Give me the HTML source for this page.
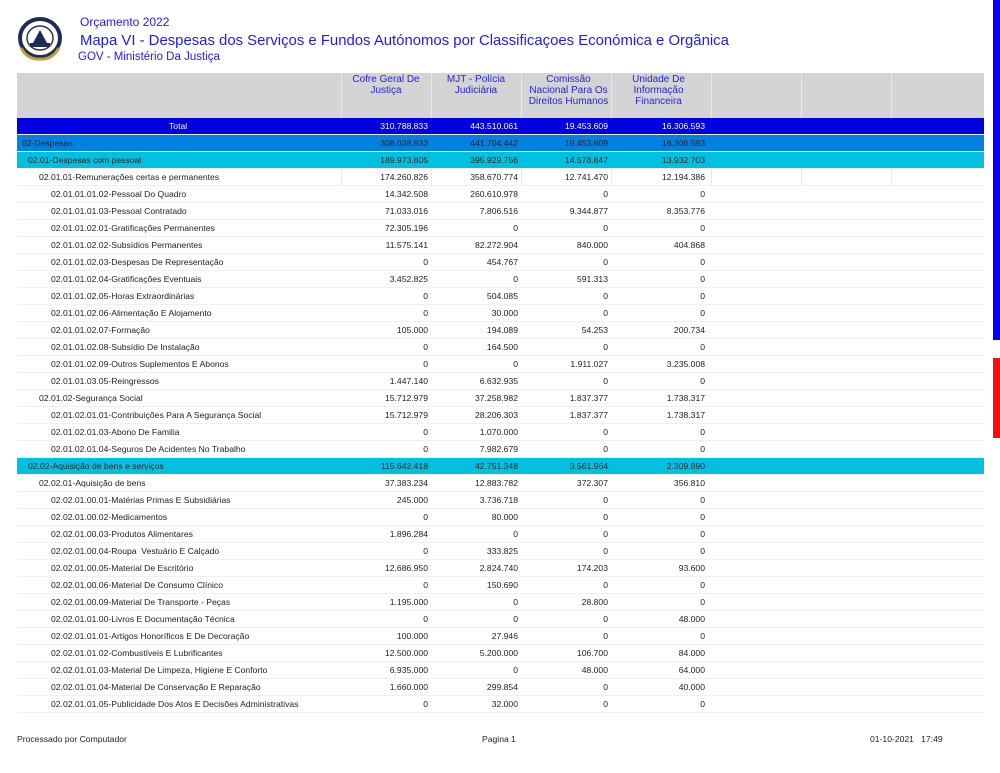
<!DOCTYPE html>
<html><head><meta charset="utf-8"><style>
body{margin:0;width:1000px;height:773px;background:#fff;position:relative;overflow:hidden;font-family:"Liberation Sans",sans-serif;}
.a{position:absolute;white-space:nowrap}
.t{color:#1a1aff}
.r{position:absolute;left:17px;width:967px;height:17px;font-size:8.6px;color:#222;border-bottom:1px solid #f0f0f0;box-sizing:border-box}
.r span{position:absolute;top:3px}
.v{text-align:right;width:90px}
.h{position:absolute;top:73px;height:45px;background:#d4d4d4}
.hc{position:absolute;top:74px;font-size:10px;color:#2222ee;text-align:center;line-height:11px}
</style></head><body>
<svg class="a" style="left:16px;top:14px" width="48" height="50" viewBox="0 0 48 50">
<ellipse cx="24" cy="24" rx="20" ry="19" fill="#fff" stroke="#1f2a55" stroke-width="4"/>
<ellipse cx="24" cy="24" rx="13" ry="12" fill="#fff" stroke="#334" stroke-width="1.5"/>
<polygon points="24,16 31,29 17,29" fill="#1f2a55"/>
<rect x="14" y="29" width="20" height="4" fill="#1f2a55"/>
<path d="M5,34 Q12,46 24,45 Q36,46 43,34" fill="none" stroke="#b9a040" stroke-width="3"/>
</svg>
<div class="a t" style="left:80px;top:15px;font-size:12px">Orçamento 2022</div>
<div class="a t" style="left:80px;top:33px;font-size:14.9px">Mapa VI - Despesas dos Serviços e Fundos Autónomos por Classificaçoes Económica e Orgãnica</div>
<div class="a t" style="left:78px;top:51px;font-size:11.5px">GOV - Ministério Da Justiça</div>
<div style="position:absolute;left:993px;top:0;width:7px;height:340px;background:#0000f0"></div>
<div style="position:absolute;left:993px;top:358px;width:7px;height:80px;background:#f01010"></div>
<div class="h" style="left:17px;width:967px"></div>
<div style="position:absolute;left:341px;top:73px;width:1px;height:112px;background:#e8e8e8"></div>
<div style="position:absolute;left:431px;top:73px;width:1px;height:112px;background:#e8e8e8"></div>
<div style="position:absolute;left:521px;top:73px;width:1px;height:112px;background:#e8e8e8"></div>
<div style="position:absolute;left:611px;top:73px;width:1px;height:112px;background:#e8e8e8"></div>
<div style="position:absolute;left:711px;top:73px;width:1px;height:112px;background:#e8e8e8"></div>
<div style="position:absolute;left:801px;top:73px;width:1px;height:112px;background:#e8e8e8"></div>
<div style="position:absolute;left:891px;top:73px;width:1px;height:112px;background:#e8e8e8"></div>
<div class="hc" style="left:341px;width:90px">Cofre Geral De<br>Justiça</div>
<div class="hc" style="left:431px;width:90px">MJT - Polícia<br>Judiciária</div>
<div class="hc" style="left:521px;width:95px">Comissão<br>Nacional Para Os<br>Direitos Humanos</div>
<div class="hc" style="left:611px;width:95px">Unidade De<br>Informação<br>Financeira</div>
<div class="a" style="left:17px;top:734px;font-size:8.6px;color:#222">Processado por Computador</div>
<div class="a" style="left:482px;top:734px;font-size:8.6px;color:#222">Pagina 1</div>
<div class="a" style="left:870px;top:734px;font-size:8.6px;color:#222">01-10-2021&nbsp;&nbsp;&nbsp;17:49</div>
<div class="r" style="top:118px;background:#0000e0;color:#fff"><span style="left:152px">Total</span><span class="v" style="left:321px">310.788.833</span><span class="v" style="left:411px">443.510.061</span><span class="v" style="left:501px">19.453.609</span><span class="v" style="left:598px">16.306.593</span></div>
<div class="r" style="top:135px;background:#0080e0"><span style="left:5px">02-Despesas</span><span class="v" style="left:321px">308.038.833</span><span class="v" style="left:411px">441.704.442</span><span class="v" style="left:501px">19.453.609</span><span class="v" style="left:598px">16.306.593</span></div>
<div class="r" style="top:152px;background:#00c0e0"><span style="left:11px">02.01-Despesas com pessoal</span><span class="v" style="left:321px">189.973.805</span><span class="v" style="left:411px">395.929.756</span><span class="v" style="left:501px">14.578.847</span><span class="v" style="left:598px">13.932.703</span></div>
<div class="r" style="top:169px"><span style="left:22px">02.01.01-Remunerações certas e permanentes</span><span class="v" style="left:321px">174.260.826</span><span class="v" style="left:411px">358.670.774</span><span class="v" style="left:501px">12.741.470</span><span class="v" style="left:598px">12.194.386</span></div>
<div class="r" style="top:186px"><span style="left:34px">02.01.01.01.02-Pessoal Do Quadro</span><span class="v" style="left:321px">14.342.508</span><span class="v" style="left:411px">260.610.978</span><span class="v" style="left:501px">0</span><span class="v" style="left:598px">0</span></div>
<div class="r" style="top:203px"><span style="left:34px">02.01.01.01.03-Pessoal Contratado</span><span class="v" style="left:321px">71.033.016</span><span class="v" style="left:411px">7.806.516</span><span class="v" style="left:501px">9.344.877</span><span class="v" style="left:598px">8.353.776</span></div>
<div class="r" style="top:220px"><span style="left:34px">02.01.01.02.01-Gratificações Permanentes</span><span class="v" style="left:321px">72.305.196</span><span class="v" style="left:411px">0</span><span class="v" style="left:501px">0</span><span class="v" style="left:598px">0</span></div>
<div class="r" style="top:237px"><span style="left:34px">02.01.01.02.02-Subsídios Permanentes</span><span class="v" style="left:321px">11.575.141</span><span class="v" style="left:411px">82.272.904</span><span class="v" style="left:501px">840.000</span><span class="v" style="left:598px">404.868</span></div>
<div class="r" style="top:254px"><span style="left:34px">02.01.01.02.03-Despesas De Representação</span><span class="v" style="left:321px">0</span><span class="v" style="left:411px">454.767</span><span class="v" style="left:501px">0</span><span class="v" style="left:598px">0</span></div>
<div class="r" style="top:271px"><span style="left:34px">02.01.01.02.04-Gratificações Eventuais</span><span class="v" style="left:321px">3.452.825</span><span class="v" style="left:411px">0</span><span class="v" style="left:501px">591.313</span><span class="v" style="left:598px">0</span></div>
<div class="r" style="top:288px"><span style="left:34px">02.01.01.02.05-Horas Extraordinárias</span><span class="v" style="left:321px">0</span><span class="v" style="left:411px">504.085</span><span class="v" style="left:501px">0</span><span class="v" style="left:598px">0</span></div>
<div class="r" style="top:305px"><span style="left:34px">02.01.01.02.06-Alimentação E Alojamento</span><span class="v" style="left:321px">0</span><span class="v" style="left:411px">30.000</span><span class="v" style="left:501px">0</span><span class="v" style="left:598px">0</span></div>
<div class="r" style="top:322px"><span style="left:34px">02.01.01.02.07-Formação</span><span class="v" style="left:321px">105.000</span><span class="v" style="left:411px">194.089</span><span class="v" style="left:501px">54.253</span><span class="v" style="left:598px">200.734</span></div>
<div class="r" style="top:339px"><span style="left:34px">02.01.01.02.08-Subsídio De Instalação</span><span class="v" style="left:321px">0</span><span class="v" style="left:411px">164.500</span><span class="v" style="left:501px">0</span><span class="v" style="left:598px">0</span></div>
<div class="r" style="top:356px"><span style="left:34px">02.01.01.02.09-Outros Suplementos E Abonos</span><span class="v" style="left:321px">0</span><span class="v" style="left:411px">0</span><span class="v" style="left:501px">1.911.027</span><span class="v" style="left:598px">3.235.008</span></div>
<div class="r" style="top:373px"><span style="left:34px">02.01.01.03.05-Reingressos</span><span class="v" style="left:321px">1.447.140</span><span class="v" style="left:411px">6.632.935</span><span class="v" style="left:501px">0</span><span class="v" style="left:598px">0</span></div>
<div class="r" style="top:390px"><span style="left:22px">02.01.02-Segurança Social</span><span class="v" style="left:321px">15.712.979</span><span class="v" style="left:411px">37.258.982</span><span class="v" style="left:501px">1.837.377</span><span class="v" style="left:598px">1.738.317</span></div>
<div class="r" style="top:407px"><span style="left:34px">02.01.02.01.01-Contribuições Para A Segurança Social</span><span class="v" style="left:321px">15.712.979</span><span class="v" style="left:411px">28.206.303</span><span class="v" style="left:501px">1.837.377</span><span class="v" style="left:598px">1.738.317</span></div>
<div class="r" style="top:424px"><span style="left:34px">02.01.02.01.03-Abono De Familia</span><span class="v" style="left:321px">0</span><span class="v" style="left:411px">1.070.000</span><span class="v" style="left:501px">0</span><span class="v" style="left:598px">0</span></div>
<div class="r" style="top:441px"><span style="left:34px">02.01.02.01.04-Seguros De Acidentes No Trabalho</span><span class="v" style="left:321px">0</span><span class="v" style="left:411px">7.982.679</span><span class="v" style="left:501px">0</span><span class="v" style="left:598px">0</span></div>
<div class="r" style="top:458px;background:#00c0e0"><span style="left:11px">02.02-Aquisição de bens e serviços</span><span class="v" style="left:321px">115.642.418</span><span class="v" style="left:411px">42.751.348</span><span class="v" style="left:501px">3.561.964</span><span class="v" style="left:598px">2.309.890</span></div>
<div class="r" style="top:475px"><span style="left:22px">02.02.01-Aquisição de bens</span><span class="v" style="left:321px">37.383.234</span><span class="v" style="left:411px">12.883.782</span><span class="v" style="left:501px">372.307</span><span class="v" style="left:598px">356.810</span></div>
<div class="r" style="top:492px"><span style="left:34px">02.02.01.00.01-Matérias Primas E Subsidiárias</span><span class="v" style="left:321px">245.000</span><span class="v" style="left:411px">3.736.718</span><span class="v" style="left:501px">0</span><span class="v" style="left:598px">0</span></div>
<div class="r" style="top:509px"><span style="left:34px">02.02.01.00.02-Medicamentos</span><span class="v" style="left:321px">0</span><span class="v" style="left:411px">80.000</span><span class="v" style="left:501px">0</span><span class="v" style="left:598px">0</span></div>
<div class="r" style="top:526px"><span style="left:34px">02.02.01.00.03-Produtos Alimentares</span><span class="v" style="left:321px">1.896.284</span><span class="v" style="left:411px">0</span><span class="v" style="left:501px">0</span><span class="v" style="left:598px">0</span></div>
<div class="r" style="top:543px"><span style="left:34px">02.02.01.00.04-Roupa&nbsp; Vestuário E Calçado</span><span class="v" style="left:321px">0</span><span class="v" style="left:411px">333.825</span><span class="v" style="left:501px">0</span><span class="v" style="left:598px">0</span></div>
<div class="r" style="top:560px"><span style="left:34px">02.02.01.00.05-Material De Escritório</span><span class="v" style="left:321px">12.686.950</span><span class="v" style="left:411px">2.824.740</span><span class="v" style="left:501px">174.203</span><span class="v" style="left:598px">93.600</span></div>
<div class="r" style="top:577px"><span style="left:34px">02.02.01.00.06-Material De Consumo Clínico</span><span class="v" style="left:321px">0</span><span class="v" style="left:411px">150.690</span><span class="v" style="left:501px">0</span><span class="v" style="left:598px">0</span></div>
<div class="r" style="top:594px"><span style="left:34px">02.02.01.00.09-Material De Transporte - Peças</span><span class="v" style="left:321px">1.195.000</span><span class="v" style="left:411px">0</span><span class="v" style="left:501px">28.800</span><span class="v" style="left:598px">0</span></div>
<div class="r" style="top:611px"><span style="left:34px">02.02.01.01.00-Livros E Documentação Técnica</span><span class="v" style="left:321px">0</span><span class="v" style="left:411px">0</span><span class="v" style="left:501px">0</span><span class="v" style="left:598px">48.000</span></div>
<div class="r" style="top:628px"><span style="left:34px">02.02.01.01.01-Artigos Honoríficos E De Decoração</span><span class="v" style="left:321px">100.000</span><span class="v" style="left:411px">27.946</span><span class="v" style="left:501px">0</span><span class="v" style="left:598px">0</span></div>
<div class="r" style="top:645px"><span style="left:34px">02.02.01.01.02-Combustíveis E Lubrificantes</span><span class="v" style="left:321px">12.500.000</span><span class="v" style="left:411px">5.200.000</span><span class="v" style="left:501px">106.700</span><span class="v" style="left:598px">84.000</span></div>
<div class="r" style="top:662px"><span style="left:34px">02.02.01.01.03-Material De Limpeza, Higiene E Conforto</span><span class="v" style="left:321px">6.935.000</span><span class="v" style="left:411px">0</span><span class="v" style="left:501px">48.000</span><span class="v" style="left:598px">64.000</span></div>
<div class="r" style="top:679px"><span style="left:34px">02.02.01.01.04-Material De Conservação E Reparação</span><span class="v" style="left:321px">1.660.000</span><span class="v" style="left:411px">299.854</span><span class="v" style="left:501px">0</span><span class="v" style="left:598px">40.000</span></div>
<div class="r" style="top:696px"><span style="left:34px">02.02.01.01.05-Publicidade Dos Atos E Decisões Administrativas</span><span class="v" style="left:321px">0</span><span class="v" style="left:411px">32.000</span><span class="v" style="left:501px">0</span><span class="v" style="left:598px">0</span></div>
</body></html>
